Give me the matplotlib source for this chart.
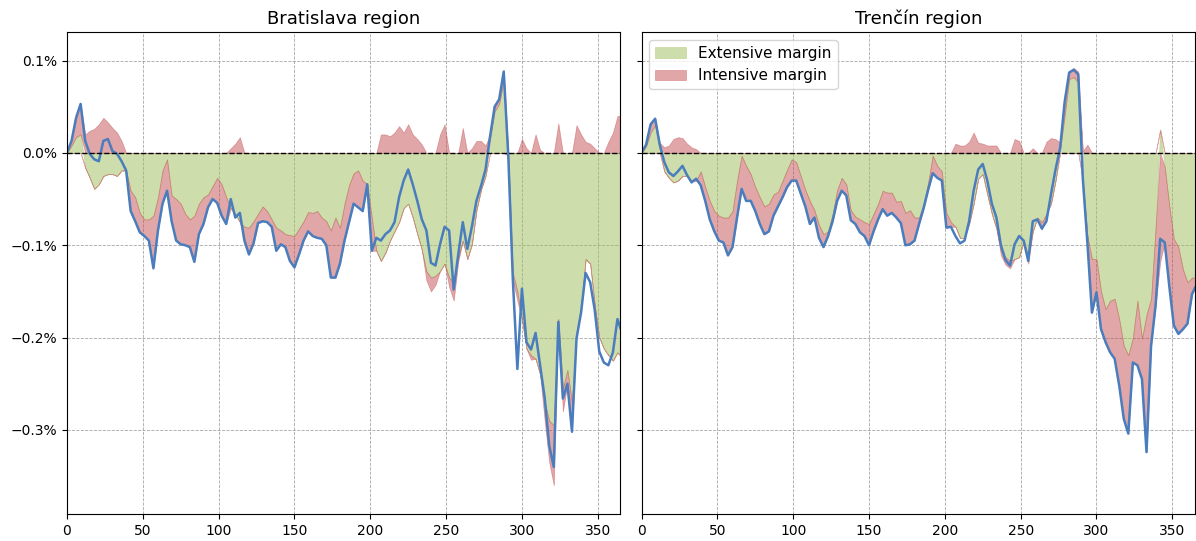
import numpy as np
import matplotlib
matplotlib.use("Agg")
import matplotlib.pyplot as plt
from matplotlib.ticker import PercentFormatter

# day of year, sampled every 3 days
days = list(range(0, 364, 3)) + [365]

# Bratislava region (values in percent)
ba_total = [
    0.000, 0.013, 0.038, 0.053, 0.013, -0.001, -0.007, -0.009, 0.013, 0.015,
    0.002, -0.001, -0.009, -0.019, -0.063, -0.074, -0.086, -0.090, -0.095, -0.125,
    -0.084, -0.055, -0.041, -0.074, -0.095, -0.099, -0.100, -0.102, -0.118, -0.088,
    -0.077, -0.059, -0.050, -0.054, -0.068, -0.077, -0.050, -0.070, -0.065, -0.095,
    -0.110, -0.098, -0.076, -0.074, -0.075, -0.080, -0.106, -0.099, -0.102, -0.117,
    -0.124, -0.110, -0.095, -0.085, -0.090, -0.092, -0.093, -0.100, -0.135, -0.135,
    -0.120, -0.095, -0.075, -0.055, -0.059, -0.063, -0.034, -0.106, -0.092, -0.095,
    -0.088, -0.084, -0.075, -0.048, -0.030, -0.018, -0.034, -0.052, -0.072, -0.084,
    -0.119, -0.122, -0.099, -0.080, -0.084, -0.148, -0.110, -0.075, -0.104, -0.080,
    -0.052, -0.036, -0.018, 0.018, 0.050, 0.058, 0.088, -0.003, -0.137, -0.234,
    -0.147, -0.205, -0.213, -0.195, -0.230, -0.265, -0.317, -0.340, -0.183, -0.266,
    -0.250, -0.302, -0.201, -0.173, -0.130, -0.140, -0.170, -0.215, -0.227, -0.230,
    -0.216, -0.180, -0.190,
]
ba_ext = [
    0.000, 0.008, 0.017, 0.020, -0.016, -0.027, -0.039, -0.034, -0.025, -0.023,
    -0.023, -0.025, -0.019, -0.019, -0.041, -0.048, -0.065, -0.072, -0.072, -0.068,
    -0.048, -0.019, -0.007, -0.046, -0.050, -0.055, -0.066, -0.072, -0.068, -0.055,
    -0.048, -0.045, -0.036, -0.027, -0.034, -0.048, -0.060, -0.066, -0.075, -0.080,
    -0.081, -0.074, -0.066, -0.058, -0.063, -0.072, -0.081, -0.084, -0.088, -0.089,
    -0.090, -0.082, -0.074, -0.064, -0.065, -0.063, -0.070, -0.074, -0.084, -0.070,
    -0.081, -0.055, -0.035, -0.022, -0.019, -0.030, -0.034, -0.070, -0.106, -0.117,
    -0.108, -0.095, -0.085, -0.075, -0.060, -0.055, -0.070, -0.088, -0.105, -0.128,
    -0.135, -0.133, -0.128, -0.120, -0.135, -0.140, -0.113, -0.095, -0.115, -0.099,
    -0.062, -0.040, -0.025, 0.015, 0.045, 0.053, 0.078, -0.003, -0.130, -0.150,
    -0.180, -0.212, -0.219, -0.223, -0.240, -0.270, -0.290, -0.295, -0.180, -0.255,
    -0.235, -0.270, -0.195, -0.168, -0.115, -0.120, -0.165, -0.200, -0.212, -0.219,
    -0.225, -0.216, -0.220,
]
ba_int = [
    0.000, 0.005, 0.020, 0.033, 0.020, 0.024, 0.026, 0.031, 0.038, 0.033,
    0.027, 0.022, 0.013, 0.000, -0.022, -0.026, -0.021, -0.018, -0.023, -0.055,
    -0.036, -0.036, -0.034, -0.028, -0.045, -0.044, -0.034, -0.030, -0.048, -0.033,
    -0.029, -0.014, -0.014, -0.027, -0.034, -0.029, 0.005, 0.010, 0.017, -0.012,
    -0.028, -0.024, -0.010, -0.016, -0.012, -0.008, -0.025, -0.015, -0.014, -0.028,
    -0.034, -0.028, -0.021, -0.021, -0.025, -0.029, -0.023, -0.026, -0.051, -0.065,
    -0.039, -0.040, -0.040, -0.033, -0.040, -0.033, 0.000, -0.036, 0.000, 0.020,
    0.020, 0.018, 0.022, 0.029, 0.022, 0.031, 0.020, 0.015, 0.009, -0.010,
    -0.015, -0.010, 0.020, 0.031, -0.010, -0.020, -0.005, 0.027, 0.000, 0.005,
    0.013, 0.013, 0.008, 0.005, 0.005, 0.006, 0.012, 0.000, -0.008, -0.010,
    0.015, 0.005, -0.005, 0.020, 0.003, -0.020, -0.045, -0.065, 0.032, -0.025,
    -0.015, -0.030, 0.030, 0.020, 0.012, 0.010, 0.005, 0.000, 0.000, 0.012,
    0.022, 0.040, 0.040,
]

# Trenčín region (values in percent)
tn_total = [
    0.000, 0.009, 0.031, 0.037, 0.009, -0.010, -0.021, -0.025, -0.020, -0.014,
    -0.024, -0.032, -0.028, -0.035, -0.052, -0.072, -0.085, -0.095, -0.097, -0.111,
    -0.102, -0.070, -0.039, -0.052, -0.052, -0.063, -0.077, -0.088, -0.085, -0.068,
    -0.058, -0.048, -0.037, -0.030, -0.030, -0.044, -0.058, -0.077, -0.070, -0.092,
    -0.102, -0.090, -0.074, -0.052, -0.041, -0.046, -0.073, -0.077, -0.086, -0.090,
    -0.100, -0.085, -0.072, -0.061, -0.068, -0.065, -0.070, -0.076, -0.100, -0.099,
    -0.095, -0.077, -0.060, -0.040, -0.022, -0.027, -0.030, -0.081, -0.080, -0.090,
    -0.098, -0.095, -0.074, -0.041, -0.018, -0.012, -0.030, -0.055, -0.070, -0.100,
    -0.116, -0.122, -0.099, -0.090, -0.095, -0.117, -0.074, -0.072, -0.082, -0.074,
    -0.045, -0.018, 0.005, 0.055, 0.087, 0.090, 0.085, -0.028, -0.097, -0.173,
    -0.151, -0.191, -0.205, -0.216, -0.223, -0.252, -0.288, -0.304, -0.227, -0.230,
    -0.245, -0.324, -0.209, -0.165, -0.093, -0.097, -0.144, -0.187, -0.196, -0.191,
    -0.185, -0.153, -0.146,
]
tn_ext = [
    0.000, 0.007, 0.022, 0.030, 0.005, -0.020, -0.027, -0.032, -0.030, -0.025,
    -0.025, -0.030, -0.030, -0.020, -0.037, -0.052, -0.063, -0.068, -0.070, -0.070,
    -0.063, -0.030, -0.003, -0.014, -0.023, -0.037, -0.048, -0.058, -0.055, -0.045,
    -0.042, -0.030, -0.018, -0.007, -0.010, -0.025, -0.040, -0.052, -0.062, -0.078,
    -0.088, -0.085, -0.066, -0.040, -0.027, -0.034, -0.062, -0.069, -0.072, -0.075,
    -0.077, -0.066, -0.055, -0.041, -0.043, -0.043, -0.053, -0.052, -0.065, -0.062,
    -0.070, -0.070, -0.055, -0.032, -0.003, -0.014, -0.020, -0.065, -0.075, -0.080,
    -0.092, -0.092, -0.077, -0.055, -0.028, -0.023, -0.045, -0.066, -0.082, -0.106,
    -0.113, -0.117, -0.115, -0.113, -0.095, -0.112, -0.085, -0.070, -0.075, -0.066,
    -0.055, -0.030, 0.003, 0.040, 0.080, 0.082, 0.076, -0.030, -0.090, -0.115,
    -0.115, -0.150, -0.169, -0.160, -0.158, -0.180, -0.209, -0.219, -0.200, -0.160,
    -0.201, -0.175, -0.158, -0.080, 0.025, -0.015, -0.057, -0.093, -0.102, -0.126,
    -0.140, -0.135, -0.135,
]
tn_int = [
    0.000, 0.002, 0.009, 0.007, 0.006, 0.006, 0.008, 0.015, 0.017, 0.016,
    0.010, 0.006, 0.004, -0.015, -0.015, -0.020, -0.022, -0.027, -0.027, -0.041,
    -0.039, -0.040, -0.036, -0.035, -0.029, -0.026, -0.029, -0.030, -0.030, -0.023,
    -0.016, -0.018, -0.019, -0.023, -0.020, -0.019, -0.018, -0.025, -0.008, -0.014,
    -0.014, -0.005, -0.008, -0.012, -0.014, -0.012, -0.011, -0.008, -0.014, -0.015,
    -0.023, -0.019, -0.017, -0.020, -0.025, -0.022, -0.017, -0.024, -0.035, -0.037,
    -0.025, -0.007, -0.005, -0.008, -0.019, -0.013, -0.010, -0.016, -0.005, 0.010,
    0.008, 0.008, 0.012, 0.022, 0.011, 0.010, 0.008, 0.008, 0.008, -0.005,
    -0.008, -0.008, 0.015, 0.013, 0.000, -0.008, 0.005, 0.000, -0.008, 0.012,
    0.016, 0.015, 0.008, 0.012, 0.008, 0.010, 0.012, 0.002, 0.009, -0.058,
    -0.036, -0.041, -0.036, -0.056, -0.065, -0.072, -0.079, -0.085, -0.027, -0.070,
    -0.044, -0.149, -0.051, -0.085, -0.118, -0.082, -0.087, -0.094, -0.094, -0.065,
    -0.045, -0.018, -0.011,
]

GREEN = "#9fbd5b"
RED = "#c44e52"
BLUE = "#4a7dbd"


def draw_panel(ax, ext, intens, total, title):
    x = np.array(days)
    ext = np.array(ext)
    intens = np.array(intens)
    # positive and negative parts are stacked separately
    pos_base = np.maximum(ext, 0)
    neg_base = np.minimum(ext, 0)
    ax.fill_between(x, 0, ext, color=GREEN, alpha=0.5, lw=0.5, label="Extensive margin")
    ax.fill_between(x, pos_base, pos_base + np.maximum(intens, 0), color=RED, alpha=0.5,
                    lw=0.5, label="Intensive margin")
    ax.fill_between(x, neg_base, neg_base + np.minimum(intens, 0), color=RED, alpha=0.5, lw=0.5)
    ax.plot(x, total, color=BLUE, lw=1.8)
    ax.axhline(0, color="black", ls="--", lw=1)
    ax.set_title(title, fontsize=13)
    ax.grid(True, ls="--", color="gray", alpha=0.7, lw=0.6)
    ax.set_axisbelow(True)
    ax.set_xlim(0, 365)


fig, axes = plt.subplots(1, 2, figsize=(11.96, 5.41), sharey=True)
draw_panel(axes[0], ba_ext, ba_int, ba_total, "Bratislava region")
draw_panel(axes[1], tn_ext, tn_int, tn_total, "Trenčín region")

axes[0].set_ylim(-0.391, 0.131)
axes[0].set_yticks([-0.3, -0.2, -0.1, 0.0, 0.1])
axes[0].yaxis.set_major_formatter(PercentFormatter(xmax=100, decimals=1))
axes[1].legend(loc="upper left", fontsize=11)

plt.subplots_adjust(left=0.056, right=0.9992, top=0.941, bottom=0.050, wspace=0.038)
plt.savefig("out.png", dpi=100)
